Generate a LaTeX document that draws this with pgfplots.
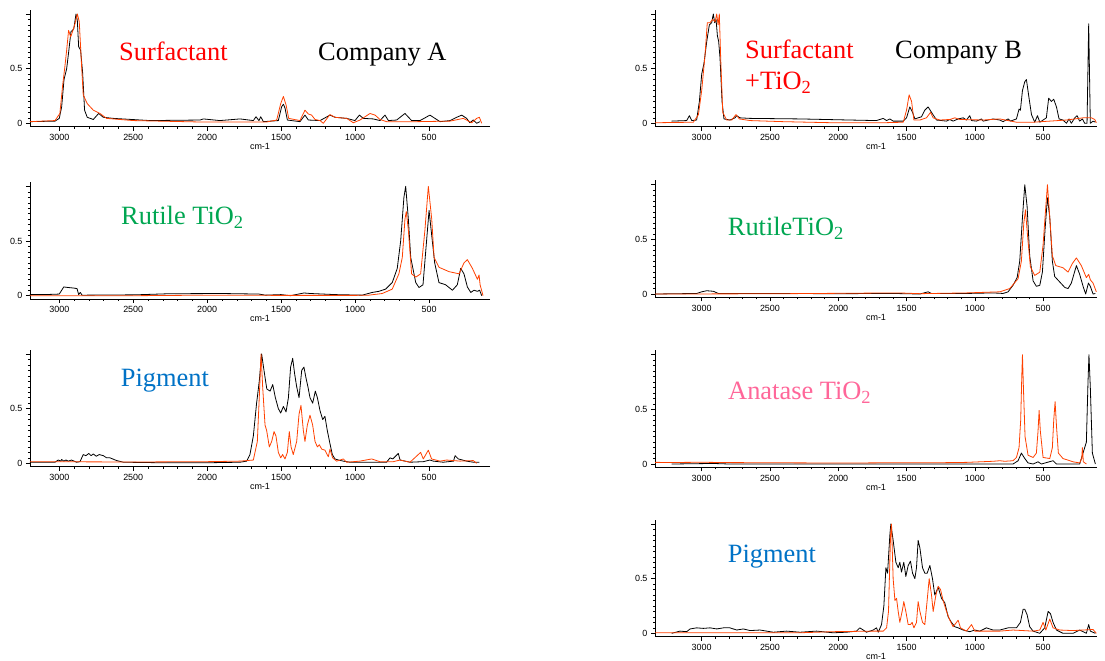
\documentclass[border=0pt]{standalone}
\usepackage{fontspec}
\setmainfont{Liberation Serif}
\newfontfamily\arial{Liberation Sans}
\usepackage{pgfplots}
\pgfplotsset{compat=1.18}
\definecolor{txtred}{RGB}{255,0,0}
\definecolor{txtgreen}{RGB}{0,166,81}
\definecolor{txtblue}{RGB}{0,114,198}
\definecolor{txtpink}{RGB}{255,102,153}
\definecolor{linered}{RGB}{255,64,0}
\pgfplotsset{
 spec/.style={
  scale only axis, anchor=south west,
  x dir=reverse,
  axis x line=bottom, axis y line=left,
  axis line style={-, black, line width=0.7bp},
  ymin=-0.03, ymax=1.04,
  xtick={500,1000,1500,2000,2500,3000},
  minor x tick num=4,
  ytick={0,0.5,1}, yticklabels={0,0.5,{}},
  minor y tick num=9,
  tick align=outside,
  major tick length=4bp, minor tick length=2bp,
  tick style={black, line width=0.5bp},
  ticklabel style={font=\arial\fontsize{9}{10}\selectfont},
  /pgf/number format/assume math mode=true,
  /pgf/number format/set thousands separator={},
  xlabel={cm-1}, xlabel style={font=\arial\fontsize{9}{10}\selectfont, yshift=4bp},
  every axis plot/.append style={line width=0.8bp, line join=round},
 },
 A/.style={spec, width=460bp, height=117bp, xmin=88, xmax=3198},
 B/.style={spec, width=442bp, height=117bp, xmin=105, xmax=3342},
}
\tikzset{lab/.style={anchor=base west, inner sep=0pt, font=\fontsize{26.5}{30}\selectfont}}
\begin{document}
\begin{tikzpicture}[x=1bp,y=1bp]
\useasboundingbox (0,0) rectangle (1105,661);
% ---------- Left 1
\begin{axis}[A, at={(30bp,534.4bp)}]
\addplot[black] coordinates {(3198,0.015)(3029,0.02)(3000,0.045)(2984,0.15)(2968,0.4)(2950,0.5)(2935,0.67)(2921,0.84)(2910,0.85)(2901,0.87)(2887,1.0)(2878,0.94)(2869,0.7)(2856,0.67)(2842,0.46)(2829,0.12)(2811,0.055)(2770,0.035)(2734,0.09)(2702,0.055)(2635,0.045)(2387,0.025)(2049,0.03)(2026,0.04)(1914,0.025)(1778,0.04)(1688,0.025)(1670,0.06)(1650,0.025)(1638,0.06)(1620,0.015)(1519,0.025)(1497,0.15)(1485,0.175)(1474,0.14)(1458,0.03)(1373,0.015)(1339,0.075)(1316,0.03)(1237,0.025)(1170,0.075)(1136,0.055)(1057,0.045)(1001,0.025)(971,0.075)(944,0.045)(877,0.04)(832,0.025)(798,0.075)(775,0.025)(719,0.03)(663,0.09)(618,0.025)(561,0.025)(494,0.075)(426,0.015)(358,0.025)(313,0.055)(279,0.075)(246,0.045)(224,0.005)(201,0.03)(178,0.0)(156,0.015)};
\addplot[linered] coordinates {(3198,0.015)(3029,0.025)(2996,0.09)(2977,0.35)(2962,0.52)(2950,0.67)(2937,0.85)(2923,0.79)(2910,0.84)(2894,0.91)(2878,1.0)(2865,0.93)(2849,0.52)(2838,0.26)(2811,0.18)(2770,0.12)(2725,0.09)(2680,0.045)(2500,0.025)(2049,0.012)(1598,0.012)(1530,0.03)(1503,0.18)(1485,0.245)(1467,0.17)(1449,0.045)(1373,0.025)(1339,0.12)(1316,0.085)(1294,0.075)(1271,0.035)(1237,0.025)(1215,0.0)(1170,0.08)(1136,0.055)(1057,0.045)(1012,0.005)(967,0.03)(899,0.09)(865,0.075)(832,0.035)(787,0.015)(584,0.015)(358,0.02)(268,0.045)(212,0.005)(178,0.045)(160,0.055)(144,0.0)};
\end{axis}
% ---------- Left 2
\begin{axis}[A, at={(30bp,362bp)}]
\addplot[black] coordinates {(3198,0.01)(3060,0.012)(3000,0.015)(2970,0.08)(2940,0.075)(2903,0.07)(2880,0.065)(2869,0.01)(2858,0.03)(2846,0.005)(2824,0.005)(2486,0.008)(2260,0.018)(1900,0.02)(1650,0.015)(1606,0.005)(1500,0.01)(1437,0.0)(1346,0.025)(1300,0.02)(1132,0.01)(952,0.005)(884,0.03)(839,0.04)(794,0.06)(749,0.12)(715,0.25)(692,0.5)(670,0.9)(658,1.0)(640,0.7)(624,0.35)(590,0.12)(568,0.075)(541,0.1)(523,0.4)(500,0.78)(482,0.55)(462,0.3)(433,0.12)(388,0.1)(342,0.05)(309,0.1)(286,0.25)(264,0.2)(241,0.08)(218,0.03)(196,0.05)(173,0.04)(158,0.05)(144,0.0)};
\addplot[linered] coordinates {(3198,0.0)(2500,0.0)(2000,0.005)(1500,0.003)(1000,0.003)(907,0.005)(817,0.02)(749,0.06)(704,0.2)(681,0.35)(663,0.7)(654,0.77)(640,0.6)(618,0.2)(590,0.17)(557,0.2)(528,0.6)(505,1.0)(482,0.7)(466,0.35)(433,0.26)(365,0.22)(297,0.2)(264,0.3)(241,0.33)(207,0.25)(173,0.15)(162,0.19)(155,0.1)(135,0.0)};
\end{axis}
% ---------- Left 3
\begin{axis}[A, at={(30bp,194.4bp)}]
\addplot[black] coordinates {(3198,0.01)(3029,0.01)(3007,0.03)(2990,0.02)(2984,0.035)(2970,0.02)(2955,0.03)(2940,0.02)(2917,0.03)(2883,0.01)(2860,0.015)(2838,0.08)(2820,0.07)(2800,0.09)(2785,0.07)(2770,0.085)(2750,0.065)(2730,0.08)(2702,0.07)(2680,0.05)(2657,0.05)(2612,0.025)(2567,0.01)(2300,0.005)(2000,0.005)(1778,0.01)(1733,0.02)(1711,0.08)(1688,0.25)(1666,0.55)(1648,0.75)(1632,1.0)(1616,0.85)(1597,0.68)(1575,0.66)(1557,0.72)(1539,0.6)(1519,0.5)(1503,0.46)(1485,0.52)(1467,0.47)(1451,0.6)(1436,0.88)(1422,0.96)(1409,0.82)(1395,0.7)(1379,0.6)(1361,0.85)(1346,0.88)(1332,0.78)(1319,0.7)(1305,0.6)(1287,0.55)(1269,0.66)(1255,0.6)(1237,0.48)(1219,0.4)(1204,0.43)(1188,0.3)(1170,0.18)(1154,0.08)(1136,0.04)(1113,0.03)(1080,0.02)(1035,0.01)(787,0.01)(764,0.05)(745,0.04)(730,0.06)(708,0.09)(696,0.03)(629,0.01)(539,0.015)(494,0.03)(471,0.02)(404,0.01)(335,0.02)(324,0.07)(302,0.04)(246,0.02)(201,0.01)(160,0.01)};
\addplot[linered] coordinates {(3198,0.015)(2500,0.012)(2000,0.015)(1778,0.02)(1688,0.03)(1661,0.2)(1648,0.6)(1636,1.0)(1625,0.7)(1609,0.35)(1598,0.3)(1580,0.15)(1564,0.2)(1548,0.29)(1535,0.25)(1519,0.1)(1503,0.05)(1490,0.08)(1474,0.04)(1458,0.1)(1445,0.29)(1433,0.15)(1418,0.08)(1395,0.2)(1379,0.45)(1366,0.53)(1350,0.3)(1339,0.2)(1323,0.35)(1305,0.44)(1287,0.35)(1271,0.2)(1255,0.15)(1242,0.17)(1226,0.13)(1204,0.12)(1181,0.06)(1170,0.13)(1152,0.05)(1125,0.02)(1080,0.04)(1057,0.01)(967,0.02)(888,0.04)(832,0.015)(742,0.015)(696,0.03)(629,0.01)(557,0.1)(539,0.04)(505,0.12)(483,0.04)(426,0.02)(381,0.03)(291,0.02)(201,0.025)(178,0.0)};
\end{axis}
% ---------- Right 1
\begin{axis}[B, at={(655bp,534.4bp)}]
\addplot[black] coordinates {(3220,0.02)(3110,0.025)(3090,0.07)(3073,0.025)(3037,0.03)(3017,0.2)(3000,0.45)(2983,0.55)(2963,0.75)(2944,0.9)(2927,0.92)(2915,1.0)(2905,0.92)(2895,0.95)(2885,0.8)(2876,0.75)(2866,0.6)(2851,0.2)(2837,0.04)(2793,0.03)(2756,0.05)(2744,0.07)(2720,0.05)(2646,0.045)(2280,0.04)(1915,0.03)(1720,0.025)(1671,0.045)(1646,0.025)(1622,0.04)(1598,0.02)(1524,0.02)(1500,0.05)(1476,0.15)(1456,0.1)(1439,0.04)(1390,0.06)(1366,0.12)(1342,0.15)(1317,0.1)(1280,0.03)(1207,0.02)(1183,0.035)(1159,0.02)(1122,0.04)(1085,0.05)(1061,0.03)(1037,0.07)(1024,0.025)(988,0.02)(951,0.04)(939,0.02)(866,0.04)(817,0.03)(793,0.015)(756,0.04)(739,0.02)(695,0.04)(676,0.13)(666,0.12)(651,0.3)(634,0.38)(622,0.4)(605,0.25)(585,0.08)(561,0.01)(541,0.07)(524,0.01)(476,0.05)(459,0.23)(439,0.2)(422,0.22)(402,0.15)(383,0.04)(354,0.03)(329,0.0)(310,0.04)(293,0.0)(268,0.05)(251,0.07)(232,0.02)(212,0.04)(195,0.0)(178,0.0)(166,0.91)(154,0.0)(134,0.02)(117,0.01)};
\addplot[linered] coordinates {(3341,0.005)(3061,0.01)(3024,0.08)(3000,0.3)(2976,0.62)(2959,0.92)(2939,0.92)(2920,0.95)(2902,0.93)(2890,1.0)(2880,0.9)(2871,1.0)(2861,0.6)(2846,0.1)(2817,0.03)(2780,0.03)(2749,0.08)(2724,0.04)(2646,0.025)(2402,0.015)(2037,0.005)(1671,0.005)(1524,0.01)(1500,0.12)(1481,0.26)(1463,0.2)(1446,0.03)(1402,0.03)(1354,0.05)(1324,0.1)(1305,0.05)(1256,0.03)(1183,0.035)(1146,0.05)(1110,0.035)(939,0.03)(817,0.04)(695,0.01)(573,0.01)(329,0.03)(207,0.05)(146,0.05)(122,0.035)(110,0.005)};
\end{axis}
% ---------- Right 2
\begin{axis}[B, at={(655bp,363.7bp)}]
\addplot[black] coordinates {(3341,0.0)(3037,0.005)(3000,0.02)(2963,0.03)(2915,0.025)(2878,0.005)(2500,0.005)(2000,0.003)(1600,0.005)(1402,0.0)(1342,0.02)(1317,0.005)(1061,0.005)(866,0.01)(793,0.005)(756,0.02)(720,0.08)(690,0.15)(671,0.3)(651,0.7)(634,1.0)(617,0.8)(598,0.35)(573,0.12)(549,0.07)(524,0.08)(505,0.2)(485,0.6)(468,0.88)(451,0.7)(432,0.3)(415,0.16)(378,0.11)(341,0.06)(317,0.05)(293,0.1)(256,0.26)(232,0.18)(207,0.07)(188,0.0)(168,0.1)(154,0.07)(134,0.0)(117,0.005)};
\addplot[linered] coordinates {(3341,0.0)(2500,0.002)(1560,0.01)(1400,0.003)(1061,0.01)(817,0.02)(744,0.05)(683,0.14)(659,0.3)(641,0.65)(629,0.77)(615,0.55)(593,0.25)(561,0.17)(524,0.2)(500,0.45)(480,0.8)(468,1.0)(451,0.7)(432,0.35)(407,0.26)(354,0.24)(317,0.2)(285,0.28)(256,0.33)(220,0.26)(183,0.15)(166,0.18)(154,0.13)(134,0.1)(110,0.02)};
\end{axis}
% ---------- Right 3
\begin{axis}[B, at={(655bp,193.7bp)}]
\addplot[black] coordinates {(3220,0.0)(2915,0.005)(2800,0.0)(720,0.0)(683,0.03)(659,0.1)(634,0.05)(610,0.01)(573,0.0)(537,0.02)(512,0.0)(427,0.03)(402,0.0)(232,0.0)(183,0.2)(171,0.75)(164,1.0)(154,0.7)(139,0.1)(117,0.0)};
\addplot[linered] coordinates {(3341,0.015)(3200,0.014)(3000,0.016)(2800,0.013)(2600,0.012)(2400,0.011)(2200,0.01)(2000,0.01)(1800,0.01)(1549,0.012)(1300,0.011)(1061,0.015)(866,0.025)(817,0.03)(781,0.025)(720,0.03)(695,0.06)(676,0.15)(664,0.4)(656,0.8)(651,1.0)(644,0.7)(632,0.25)(610,0.08)(573,0.06)(549,0.1)(537,0.3)(529,0.49)(520,0.3)(500,0.06)(451,0.05)(432,0.15)(422,0.4)(412,0.57)(402,0.35)(388,0.1)(354,0.05)(329,0.04)(280,0.02)(232,0.01)(217,0.05)(212,0.15)(205,0.02)(183,0.0)};
\end{axis}
% ---------- Right 4
\begin{axis}[B, at={(655bp,24.4bp)}]
\addplot[black] coordinates {(3220,0.0)(3159,0.02)(3110,0.015)(3085,0.04)(3037,0.05)(2988,0.045)(2939,0.05)(2890,0.04)(2841,0.05)(2793,0.05)(2744,0.03)(2695,0.04)(2646,0.025)(2573,0.03)(2476,0.01)(2378,0.02)(2280,0.01)(2159,0.02)(2037,0.005)(1939,0.01)(1866,0.02)(1842,0.05)(1817,0.03)(1793,0.01)(1744,0.03)(1720,0.05)(1707,0.01)(1683,0.08)(1666,0.25)(1651,0.6)(1639,0.55)(1622,0.9)(1615,1.0)(1598,0.85)(1578,0.65)(1561,0.6)(1549,0.65)(1537,0.56)(1520,0.65)(1505,0.52)(1488,0.62)(1471,0.66)(1456,0.55)(1439,0.5)(1427,0.6)(1415,0.85)(1402,0.78)(1383,0.6)(1366,0.55)(1349,0.55)(1329,0.62)(1310,0.5)(1293,0.35)(1268,0.42)(1244,0.32)(1220,0.28)(1195,0.15)(1171,0.1)(1146,0.06)(1122,0.05)(1085,0.03)(1037,0.015)(1000,0.03)(963,0.02)(915,0.05)(866,0.03)(817,0.03)(756,0.05)(695,0.05)(666,0.1)(646,0.22)(634,0.22)(617,0.17)(598,0.06)(573,0.02)(524,0.0)(488,0.05)(463,0.2)(446,0.18)(427,0.1)(402,0.03)(354,0.0)(280,0.0)(232,0.03)(183,0.0)(166,0.08)(154,0.02)(117,0.0)};
\addplot[linered] coordinates {(3341,0.005)(2500,0.005)(2280,0.005)(2037,0.015)(1744,0.02)(1671,0.02)(1646,0.05)(1632,0.2)(1617,0.9)(1610,1.0)(1598,0.5)(1585,0.3)(1573,0.32)(1561,0.2)(1549,0.1)(1529,0.22)(1520,0.29)(1505,0.2)(1488,0.08)(1471,0.08)(1459,0.1)(1446,0.05)(1427,0.1)(1415,0.29)(1402,0.2)(1383,0.1)(1366,0.08)(1349,0.3)(1334,0.5)(1317,0.35)(1305,0.2)(1285,0.35)(1268,0.43)(1251,0.4)(1232,0.3)(1207,0.2)(1183,0.12)(1159,0.06)(1134,0.1)(1122,0.12)(1105,0.05)(1061,0.02)(1024,0.08)(1000,0.02)(817,0.02)(720,0.03)(573,0.02)(524,0.03)(500,0.1)(480,0.03)(451,0.13)(427,0.05)(378,0.03)(280,0.025)(207,0.03)(134,0.035)(110,0.0)};
\end{axis}
% ---------- Labels
\node[lab, txtred] at (119,600) {Surfactant};
\node[lab, black] at (318,600) {Company A};
\node[lab, txtred] at (745,602.7) {Surfactant};
\node[lab, txtred] at (745,571) {+TiO\textsubscript{2}};
\node[lab, black] at (895,602.7) {Company B};
\node[lab, txtgreen] at (121,436.7) {Rutile TiO\textsubscript{2}};
\node[lab, txtgreen] at (727.7,425) {RutileTiO\textsubscript{2}};
\node[lab, txtblue] at (120.7,274.3) {Pigment};
\node[lab, txtpink] at (728,261.7) {Anatase TiO\textsubscript{2}};
\node[lab, txtblue] at (727.7,98.7) {Pigment};
\end{tikzpicture}
\end{document}
